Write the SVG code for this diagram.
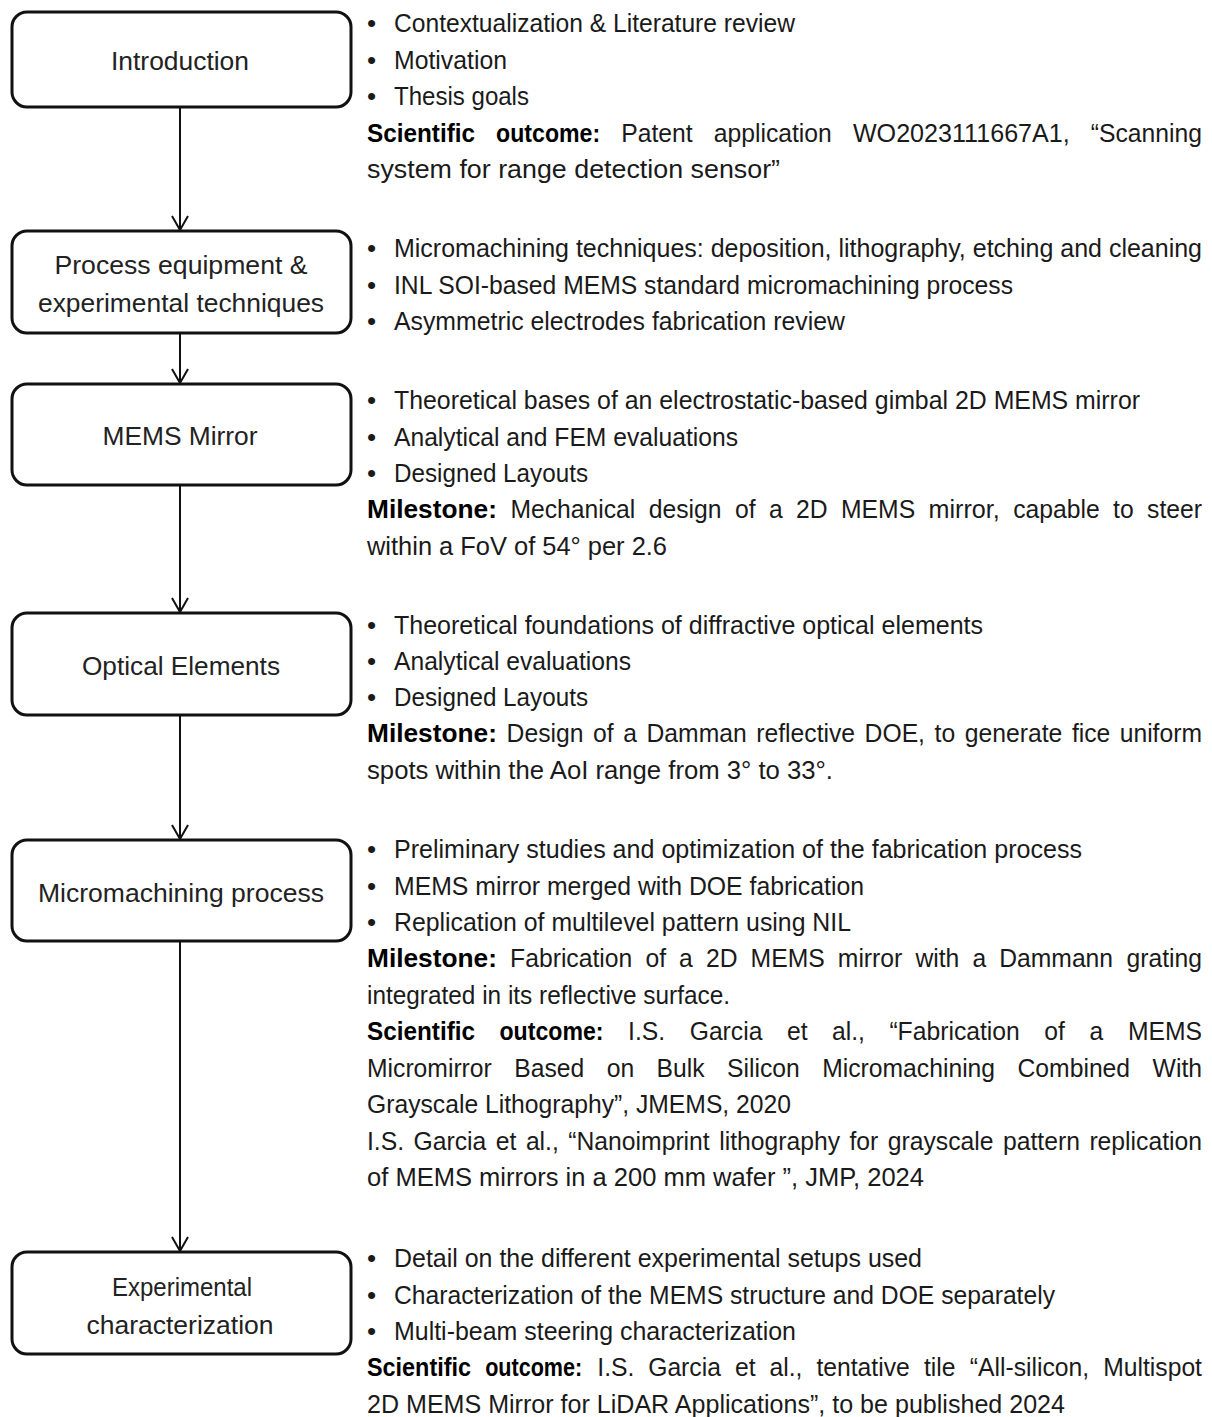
<svg xmlns="http://www.w3.org/2000/svg" width="1212" height="1417" viewBox="0 0 1212 1417">
<defs>
<style>
.box{fill:#fff;stroke:#111;stroke-width:3}
.lbl{font-family:"Liberation Sans",Arial,sans-serif;font-size:26px;fill:#222;text-anchor:middle}
.t{font-family:"Liberation Sans",Arial,sans-serif;font-size:26px;fill:#1a1a1a}
.b{font-weight:bold;fill:#000}
.conn{stroke:#111;stroke-width:2;fill:none}
</style>
<marker id="arr" markerWidth="20" markerHeight="20" viewBox="0 0 20 20" refX="16" refY="10" orient="auto" markerUnits="userSpaceOnUse">
<path d="M2,2 L16,10 L2,18" fill="none" stroke="#111" stroke-width="2"/>
</marker>
</defs>
<rect width="1212" height="1417" fill="#fff"/>

<g id="connectors">
<line class="conn" x1="180" y1="108" x2="180" y2="230" marker-end="url(#arr)"/>
<line class="conn" x1="180" y1="334" x2="180" y2="383" marker-end="url(#arr)"/>
<line class="conn" x1="180" y1="486" x2="180" y2="612" marker-end="url(#arr)"/>
<line class="conn" x1="180" y1="716" x2="180" y2="839" marker-end="url(#arr)"/>
<line class="conn" x1="180" y1="942" x2="180" y2="1251" marker-end="url(#arr)"/>
</g>

<g id="introduction">
<rect class="box" x="12" y="12" width="339" height="95" rx="15"/>
<text class="lbl" x="180" y="70" textLength="138" lengthAdjust="spacingAndGlyphs">Introduction</text>
</g>
<g id="process-equipment">
<rect class="box" x="12" y="231" width="339" height="102" rx="15"/>
<text class="lbl" x="181" y="274" textLength="253" lengthAdjust="spacingAndGlyphs">Process equipment &amp;</text>
<text class="lbl" x="181" y="312" textLength="286" lengthAdjust="spacingAndGlyphs">experimental techniques</text>
</g>
<g id="mems-mirror">
<rect class="box" x="12" y="384" width="339" height="101" rx="15"/>
<text class="lbl" x="180" y="445" textLength="155" lengthAdjust="spacingAndGlyphs">MEMS Mirror</text>
</g>
<g id="optical-elements">
<rect class="box" x="12" y="613" width="339" height="102" rx="15"/>
<text class="lbl" x="181" y="675" textLength="198" lengthAdjust="spacingAndGlyphs">Optical Elements</text>
</g>
<g id="micromachining">
<rect class="box" x="12" y="840" width="339" height="101" rx="15"/>
<text class="lbl" x="181" y="902" textLength="286" lengthAdjust="spacingAndGlyphs">Micromachining process</text>
</g>
<g id="experimental">
<rect class="box" x="12" y="1252" width="339" height="102" rx="15"/>
<text class="lbl" x="182" y="1296" textLength="140" lengthAdjust="spacingAndGlyphs">Experimental</text>
<text class="lbl" x="180" y="1334" textLength="187" lengthAdjust="spacingAndGlyphs">characterization</text>
</g>

<g id="text-introduction">
<text class="t" x="367" y="32">•</text><text class="t" x="394" y="32" textLength="401" lengthAdjust="spacingAndGlyphs">Contextualization &amp; Literature review</text>
<text class="t" x="367" y="69">•</text><text class="t" x="394" y="69" textLength="113" lengthAdjust="spacingAndGlyphs">Motivation</text>
<text class="t" x="367" y="105">•</text><text class="t" x="394" y="105" textLength="135" lengthAdjust="spacingAndGlyphs">Thesis goals</text>
<text class="t" y="142"><tspan class="b" x="367" textLength="108" lengthAdjust="spacingAndGlyphs">Scientific</tspan><tspan class="b" x="496.1" textLength="104" lengthAdjust="spacingAndGlyphs">outcome:</tspan><tspan x="621.2" textLength="71.4" lengthAdjust="spacingAndGlyphs">Patent</tspan><tspan x="713.7" textLength="118.1" lengthAdjust="spacingAndGlyphs">application</tspan><tspan x="852.9" textLength="216.9" lengthAdjust="spacingAndGlyphs">WO2023111667A1,</tspan><tspan x="1090.8" textLength="111.2" lengthAdjust="spacingAndGlyphs">“Scanning</tspan></text>
<text class="t" x="367" y="178" textLength="413" lengthAdjust="spacingAndGlyphs">system for range detection sensor”</text>
</g>

<g id="text-process">
<text class="t" x="367" y="257">•</text><text class="t" x="394" y="257" font-size="25" style="font-size:25px" textLength="808" lengthAdjust="spacingAndGlyphs">Micromachining techniques: deposition, lithography, etching and cleaning</text>
<text class="t" x="367" y="294">•</text><text class="t" x="394" y="294" textLength="619" lengthAdjust="spacingAndGlyphs">INL SOI-based MEMS standard micromachining process</text>
<text class="t" x="367" y="330">•</text><text class="t" x="394" y="330" textLength="451" lengthAdjust="spacingAndGlyphs">Asymmetric electrodes fabrication review</text>
</g>

<g id="text-mems">
<text class="t" x="367" y="409">•</text><text class="t" x="394" y="409" textLength="746" lengthAdjust="spacingAndGlyphs">Theoretical bases of an electrostatic-based gimbal 2D MEMS mirror</text>
<text class="t" x="367" y="446">•</text><text class="t" x="394" y="446" textLength="344" lengthAdjust="spacingAndGlyphs">Analytical and FEM evaluations</text>
<text class="t" x="367" y="482">•</text><text class="t" x="394" y="482" textLength="194" lengthAdjust="spacingAndGlyphs">Designed Layouts</text>
<text class="t" y="518"><tspan class="b" x="367" textLength="130" lengthAdjust="spacingAndGlyphs">Milestone:</tspan><tspan x="510.4" textLength="124.9" lengthAdjust="spacingAndGlyphs">Mechanical</tspan><tspan x="648.7" textLength="72.8" lengthAdjust="spacingAndGlyphs">design</tspan><tspan x="734.9" textLength="20.6" lengthAdjust="spacingAndGlyphs">of</tspan><tspan x="768.9" textLength="13.7" lengthAdjust="spacingAndGlyphs">a</tspan><tspan x="796" textLength="31.6" lengthAdjust="spacingAndGlyphs">2D</tspan><tspan x="841" textLength="74.1" lengthAdjust="spacingAndGlyphs">MEMS</tspan><tspan x="928.5" textLength="71.3" lengthAdjust="spacingAndGlyphs">mirror,</tspan><tspan x="1013.2" textLength="86.5" lengthAdjust="spacingAndGlyphs">capable</tspan><tspan x="1113.1" textLength="20.6" lengthAdjust="spacingAndGlyphs">to</tspan><tspan x="1147.1" textLength="54.9" lengthAdjust="spacingAndGlyphs">steer</tspan></text>
<text class="t" x="367" y="555" textLength="300" lengthAdjust="spacingAndGlyphs">within a FoV of 54° per 2.6</text>
</g>

<g id="text-optical">
<text class="t" x="367" y="634">•</text><text class="t" x="394" y="634" textLength="589" lengthAdjust="spacingAndGlyphs">Theoretical foundations of diffractive optical elements</text>
<text class="t" x="367" y="670">•</text><text class="t" x="394" y="670" textLength="237" lengthAdjust="spacingAndGlyphs">Analytical evaluations</text>
<text class="t" x="367" y="706">•</text><text class="t" x="394" y="706" textLength="194" lengthAdjust="spacingAndGlyphs">Designed Layouts</text>
<text class="t" y="742"><tspan class="b" x="367" textLength="130" lengthAdjust="spacingAndGlyphs">Milestone:</tspan><tspan x="506.6" textLength="76.9" lengthAdjust="spacingAndGlyphs">Design</tspan><tspan x="593" textLength="20.6" lengthAdjust="spacingAndGlyphs">of</tspan><tspan x="623.2" textLength="13.7" lengthAdjust="spacingAndGlyphs">a</tspan><tspan x="646.5" textLength="100.2" lengthAdjust="spacingAndGlyphs">Damman</tspan><tspan x="756.3" textLength="98.8" lengthAdjust="spacingAndGlyphs">reflective</tspan><tspan x="864.6" textLength="60.4" lengthAdjust="spacingAndGlyphs">DOE,</tspan><tspan x="934.6" textLength="20.6" lengthAdjust="spacingAndGlyphs">to</tspan><tspan x="964.8" textLength="97.5" lengthAdjust="spacingAndGlyphs">generate</tspan><tspan x="1071.9" textLength="38.4" lengthAdjust="spacingAndGlyphs">fice</tspan><tspan x="1119.7" textLength="82.3" lengthAdjust="spacingAndGlyphs">uniform</tspan></text>
<text class="t" x="367" y="779" textLength="466" lengthAdjust="spacingAndGlyphs">spots within the AoI range from 3° to 33°.</text>
</g>

<g id="text-micromachining">
<text class="t" x="367" y="858">•</text><text class="t" x="394" y="858" textLength="688" lengthAdjust="spacingAndGlyphs">Preliminary studies and optimization of the fabrication process</text>
<text class="t" x="367" y="895">•</text><text class="t" x="394" y="895" textLength="470" lengthAdjust="spacingAndGlyphs">MEMS mirror merged with DOE fabrication</text>
<text class="t" x="367" y="931">•</text><text class="t" x="394" y="931" textLength="457" lengthAdjust="spacingAndGlyphs">Replication of multilevel pattern using NIL</text>
<text class="t" y="967"><tspan class="b" x="367" textLength="130" lengthAdjust="spacingAndGlyphs">Milestone:</tspan><tspan x="510.1" textLength="122.2" lengthAdjust="spacingAndGlyphs">Fabrication</tspan><tspan x="645.4" textLength="20.6" lengthAdjust="spacingAndGlyphs">of</tspan><tspan x="679.1" textLength="13.7" lengthAdjust="spacingAndGlyphs">a</tspan><tspan x="705.9" textLength="31.6" lengthAdjust="spacingAndGlyphs">2D</tspan><tspan x="750.6" textLength="74.1" lengthAdjust="spacingAndGlyphs">MEMS</tspan><tspan x="837.8" textLength="64.5" lengthAdjust="spacingAndGlyphs">mirror</tspan><tspan x="915.4" textLength="43.9" lengthAdjust="spacingAndGlyphs">with</tspan><tspan x="972.4" textLength="13.7" lengthAdjust="spacingAndGlyphs">a</tspan><tspan x="999.2" textLength="113.9" lengthAdjust="spacingAndGlyphs">Dammann</tspan><tspan x="1126.5" textLength="75.5" lengthAdjust="spacingAndGlyphs">grating</tspan></text>
<text class="t" x="367" y="1004" textLength="363" lengthAdjust="spacingAndGlyphs">integrated in its reflective surface.</text>
<text class="t" y="1040"><tspan class="b" x="367" textLength="108" lengthAdjust="spacingAndGlyphs">Scientific</tspan><tspan class="b" x="499.5" textLength="104" lengthAdjust="spacingAndGlyphs">outcome:</tspan><tspan x="628.1" textLength="37.1" lengthAdjust="spacingAndGlyphs">I.S.</tspan><tspan x="689.7" textLength="72.7" lengthAdjust="spacingAndGlyphs">Garcia</tspan><tspan x="786.9" textLength="20.6" lengthAdjust="spacingAndGlyphs">et</tspan><tspan x="832" textLength="32.9" lengthAdjust="spacingAndGlyphs">al.,</tspan><tspan x="889.4" textLength="130.4" lengthAdjust="spacingAndGlyphs">“Fabrication</tspan><tspan x="1044.3" textLength="20.6" lengthAdjust="spacingAndGlyphs">of</tspan><tspan x="1089.4" textLength="13.7" lengthAdjust="spacingAndGlyphs">a</tspan><tspan x="1127.9" textLength="74.1" lengthAdjust="spacingAndGlyphs">MEMS</tspan></text>
<text class="t" y="1077"><tspan x="367" textLength="124.8" lengthAdjust="spacingAndGlyphs">Micromirror</tspan><tspan x="514.2" textLength="70" lengthAdjust="spacingAndGlyphs">Based</tspan><tspan x="606.7" textLength="27.5" lengthAdjust="spacingAndGlyphs">on</tspan><tspan x="656.6" textLength="48" lengthAdjust="spacingAndGlyphs">Bulk</tspan><tspan x="727" textLength="72.7" lengthAdjust="spacingAndGlyphs">Silicon</tspan><tspan x="822.2" textLength="172.9" lengthAdjust="spacingAndGlyphs">Micromachining</tspan><tspan x="1017.5" textLength="112.6" lengthAdjust="spacingAndGlyphs">Combined</tspan><tspan x="1152.6" textLength="49.4" lengthAdjust="spacingAndGlyphs">With</tspan></text>
<text class="t" x="367" y="1113" textLength="424" lengthAdjust="spacingAndGlyphs">Grayscale Lithography”, JMEMS, 2020</text>
<text class="t" y="1150"><tspan x="367" textLength="37.1" lengthAdjust="spacingAndGlyphs">I.S.</tspan><tspan x="413.6" textLength="72.7" lengthAdjust="spacingAndGlyphs">Garcia</tspan><tspan x="495.8" textLength="20.6" lengthAdjust="spacingAndGlyphs">et</tspan><tspan x="525.9" textLength="32.9" lengthAdjust="spacingAndGlyphs">al.,</tspan><tspan x="568.3" textLength="141.4" lengthAdjust="spacingAndGlyphs">“Nanoimprint</tspan><tspan x="719.2" textLength="120.8" lengthAdjust="spacingAndGlyphs">lithography</tspan><tspan x="849.5" textLength="28.8" lengthAdjust="spacingAndGlyphs">for</tspan><tspan x="887.8" textLength="105.7" lengthAdjust="spacingAndGlyphs">grayscale</tspan><tspan x="1003" textLength="76.9" lengthAdjust="spacingAndGlyphs">pattern</tspan><tspan x="1089.4" textLength="112.6" lengthAdjust="spacingAndGlyphs">replication</tspan></text>
<text class="t" x="367" y="1186" textLength="557" lengthAdjust="spacingAndGlyphs">of MEMS mirrors in a 200 mm wafer ”, JMP, 2024</text>
</g>

<g id="text-experimental">
<text class="t" x="367" y="1267">•</text><text class="t" x="394" y="1267" textLength="528" lengthAdjust="spacingAndGlyphs">Detail on the different experimental setups used</text>
<text class="t" x="367" y="1304">•</text><text class="t" x="394" y="1304" textLength="661" lengthAdjust="spacingAndGlyphs">Characterization of the MEMS structure and DOE separately</text>
<text class="t" x="367" y="1340">•</text><text class="t" x="394" y="1340" textLength="402" lengthAdjust="spacingAndGlyphs">Multi-beam steering characterization</text>
<text class="t" y="1376"><tspan class="b" x="367" textLength="104" lengthAdjust="spacingAndGlyphs">Scientific</tspan><tspan class="b" x="485.2" textLength="97" lengthAdjust="spacingAndGlyphs">outcome:</tspan></text>
<text class="t" y="1376"><tspan x="597.3" textLength="37.1" lengthAdjust="spacingAndGlyphs">I.S.</tspan><tspan x="648.2" textLength="72.7" lengthAdjust="spacingAndGlyphs">Garcia</tspan><tspan x="734.9" textLength="20.6" lengthAdjust="spacingAndGlyphs">et</tspan><tspan x="769.5" textLength="32.9" lengthAdjust="spacingAndGlyphs">al.,</tspan><tspan x="816.4" textLength="93.4" lengthAdjust="spacingAndGlyphs">tentative</tspan><tspan x="924" textLength="31.6" lengthAdjust="spacingAndGlyphs">tile</tspan><tspan x="969.8" textLength="119.4" lengthAdjust="spacingAndGlyphs">“All-silicon,</tspan><tspan x="1103.2" textLength="98.8" lengthAdjust="spacingAndGlyphs">Multispot</tspan></text>
<text class="t" x="367" y="1413" textLength="698" lengthAdjust="spacingAndGlyphs">2D MEMS Mirror for LiDAR Applications”, to be published 2024</text>
</g>
</svg>
